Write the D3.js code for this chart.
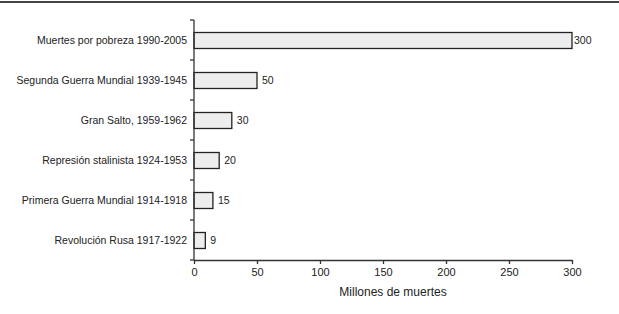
<!DOCTYPE html>
<html>
<head>
<meta charset="utf-8">
<script src="https://cdn.jsdelivr.net/npm/d3@7"></script>
<style>
  body { margin:0; background:#fff; }
  svg { display:block; font-family:"Liberation Sans", Arial, sans-serif; }
</style>
</head>
<body>
<svg id="chart" width="619" height="314"></svg>
<script>
const categories = [
  "Muertes por pobreza 1990-2005",
  "Segunda Guerra Mundial 1939-1945",
  "Gran Salto, 1959-1962",
  "Represión stalinista 1924-1953",
  "Primera Guerra Mundial 1914-1918",
  "Revolución Rusa 1917-1922"
];
const values = [300, 50, 30, 20, 15, 9];
const xTicks = [0, 50, 100, 150, 200, 250, 300];
const xTitle = "Millones de muertes";

const svg = d3.select("#chart");
const mLeft = 194, mRight = 572, mTop = 20, mBottom = 260;
const ink = "#333";

// frame line at top
svg.append("rect").attr("x",0).attr("y",1).attr("width",619).attr("height",2).attr("fill","#444");

const x = d3.scaleLinear().domain([0, 300]).range([mLeft, mRight]);
const y = d3.scaleBand().domain(categories).range([mTop, mBottom]).paddingInner(0.6).paddingOuter(0.3);

// bars
svg.append("g").selectAll("rect").data(values).enter().append("rect")
  .attr("x", x(0)).attr("y", (d,i)=>Math.round(y(categories[i]))+0.5)
  .attr("width", d=>x(d)-x(0)).attr("height", y.bandwidth())
  .attr("fill","#ededed").attr("stroke","#222").attr("stroke-width",1.3);

// value labels
svg.append("g").selectAll("text").data(values).enter().append("text")
  .attr("x", d=>x(d)+(d===300?2:5)).attr("y", (d,i)=>y(categories[i])+y.bandwidth()/2)
  .attr("dy","0.35em").attr("font-size",10.5).attr("fill","#222")
  .text(d=>d);

// y axis: ticks at band boundaries
const yBounds = d3.range(categories.length+1).map(i => mTop + i*(mBottom-mTop)/categories.length);
const ya = svg.append("g");
ya.append("line").attr("x1",mLeft).attr("x2",mLeft).attr("y1",mTop).attr("y2",mBottom).attr("stroke",ink).attr("stroke-width",1.3);
ya.selectAll("line.t").data(yBounds).enter().append("line").attr("class","t")
  .attr("x1",mLeft-4).attr("x2",mLeft).attr("y1",d=>d).attr("y2",d=>d).attr("stroke",ink).attr("stroke-width",1.3);
ya.selectAll("text").data(categories).enter().append("text")
  .attr("x", mLeft-7).attr("y", d=>y(d)+y.bandwidth()/2).attr("dy","0.35em")
  .attr("text-anchor","end").attr("font-size",10.5).attr("fill","#222").text(d=>d);

// x axis
const xa = svg.append("g").attr("transform",`translate(0,${mBottom})`)
  .call(d3.axisBottom(x).tickValues(xTicks).tickSize(4).tickPadding(4).tickSizeOuter(0));
xa.select(".domain").attr("stroke",ink).attr("stroke-width",1.3);
xa.selectAll(".tick line").attr("stroke",ink).attr("stroke-width",1.3);
xa.selectAll(".tick text").attr("font-size",11).attr("fill","#222").attr("font-family","Liberation Sans, Arial, sans-serif");

svg.append("text").attr("x",393).attr("y",296).attr("text-anchor","middle")
  .attr("font-size",12).attr("fill","#222").text(xTitle);
</script>
</body>
</html>
